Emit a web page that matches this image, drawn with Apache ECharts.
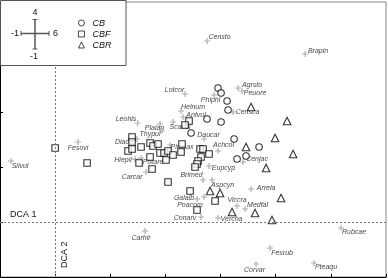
<!DOCTYPE html>
<html><head><meta charset="utf-8">
<script src="https://cdn.jsdelivr.net/npm/echarts@6/dist/echarts.min.js"></script>
<style>html,body{margin:0;padding:0;background:#fff}#c{width:388px;height:278px}</style>
</head><body><div id="c"></div>
<script>
// Axis ranges (DCA units)
const xRange = [-1, 6];
const yRange = [-1, 4];
const scaleLabels = ['4', '-1', '6', '-1'];
const groupNames = ['CB', 'CBF', 'CBR'];
const axisTitles = ['DCA 1', 'DCA 2'];

// Species (+ markers)
const speciesNames = ['Censto','Brapin','Lotcor','Agrsto','Peuore','Phlphl','Helnum','Censca','Antvul','Leohis','Plalan','Scacol','Thypul','Daucar','Diacar','Hiepil','Potare','Carcar','Pimsax','Achcol','Eupcyp','Cenjac','Brimed','Aspcyn','Arrela','Galalb','Poacom','Viccra','Medfal','Conarv','Vercha','Carhir','Corvar','Fesrub','Pteaqu','Rubcae','Fesovi','Silvul'];
const speciesX = [2.755,4.532,2.356,3.317,3.390,2.882,2.283,3.226,2.320,1.494,1.902,2.138,1.939,2.700,1.485,1.449,1.558,1.649,2.084,2.954,2.791,3.408,2.682,2.846,3.553,2.573,2.700,3.299,3.444,2.646,2.954,1.630,3.643,3.897,4.695,5.185,0.415,-0.800];
const speciesY = [3.291,3.055,2.327,2.436,2.382,2.309,2.018,2.000,1.909,1.800,1.782,1.818,1.655,1.509,1.509,1.145,1.164,0.909,1.400,1.291,1.018,1.091,0.764,0.764,0.600,0.418,0.455,0.291,0.236,0.091,0.073,-0.164,-0.764,-0.473,-0.745,-0.109,1.455,1.109];

// Sites
const cbX = [2.954,3.009,3.118,3.136,2.755,3.009,2.465,3.245,3.299,3.462,3.698];
const cbY = [2.436,2.345,2.200,2.036,1.873,1.818,1.618,1.509,1.145,1.200,1.364];
const cbfX = [0.000,0.579,1.395,1.395,1.322,1.395,1.558,1.522,1.721,1.775,1.866,1.721,1.902,1.975,1.757,2.011,2.047,2.138,2.283,2.301,2.428,2.356,2.047,2.447,2.628,2.682,2.791,2.646,2.592,2.573,2.537,2.900,2.573];
const cbfY = [1.345,1.073,1.545,1.455,1.291,1.327,1.364,1.073,1.436,1.382,1.418,1.182,1.255,1.255,0.964,1.127,1.291,1.218,1.273,1.418,1.836,1.764,0.727,0.564,1.327,1.327,1.236,1.182,1.109,1.055,1.000,0.382,0.218];
const cbrX = [3.553,4.206,3.988,3.462,4.315,3.825,2.809,2.991,4.097,3.208,3.625,3.933];
const cbrY = [2.091,1.836,1.527,1.364,1.236,0.982,0.564,0.527,0.436,0.182,0.164,0.036];

// label placement (style)
const labelOffset = {Censto:[12.5,-4],Brapin:[13,-3],Lotcor:[-10.5,-4],Agrsto:[14,-3],Peuore:[13,2],Phlphl:[-3.5,5],Helnum:[12,-4],Censca:[14.5,0],Antvul:[13,-1.5],Leohis:[-11.5,-4],Plalan:[-5.5,4],Scacol:[7,5],Thypul:[-12,3],Daucar:[4.5,-4],Diacar:[-12,3],Hiepil:[-12,1],Potare:[12,4],Carcar:[-14,5],Pimsax:[12,2],Achcol:[5.5,-6],Eupcyp:[14.5,2],Cenjac:[14,-3],Brimed:[-11.5,-5],Aspcyn:[10.5,5],Arrela:[15,-1],Galalb:[-13,-1],Poacom:[-14,8],Viccra:[0,-6],Medfal:[12.5,-4],Conarv:[-16,1],Vercha:[13.5,1],Carhir:[-4,7],Corvar:[-1.5,6],Fesrub:[12,5],Pteaqu:[12,4],Rubcae:[13,4],Fesovi:[0,6],Silvul:[9,5]};

const FONT = 'Liberation Sans, Arial, sans-serif';
const pair = (xs, ys) => xs.map((x, i) => [x, ys[i]]);
const siteStyle = {color:'#fff', borderColor:'#000', borderWidth:1.1};

const chart = echarts.init(document.getElementById('c'), null, {renderer:'canvas'});
const axisCommon = {
  type:'value', interval:1,
  axisLine:{show:true, onZero:false, lineStyle:{color:'#000', width:1}},
  axisTick:{show:true, inside:true, length:3, lineStyle:{color:'#000'}},
  axisLabel:{show:false}, splitLine:{show:false}
};
chart.setOption({
  animation:false,
  grid:{left:0, right:2, top:2, bottom:1, show:true, borderColor:'#888', borderWidth:1},
  xAxis:Object.assign({min:xRange[0], max:xRange[1]}, axisCommon),
  yAxis:Object.assign({min:yRange[0], max:yRange[1]}, axisCommon),
  legend:{
    orient:'vertical', left:78, top:18, padding:0, itemWidth:6, itemHeight:6, itemGap:1, z:30,
    itemStyle:{borderWidth:0.9},
    data:[{name:groupNames[0], icon:'circle'},{name:groupNames[1], icon:'rect'},{name:groupNames[2], icon:'triangle'}],
    textStyle:{fontSize:9, lineHeight:10, fontStyle:'italic', fontFamily:FONT, color:'#111', padding:[0,0,0,3]}
  },
  graphic:[
    {type:'rect', z:20, shape:{x:0.5, y:0.5, width:125.5, height:65}, style:{fill:'#fff', stroke:'#555', lineWidth:1}},
    {type:'line', z:21, shape:{x1:21, y1:33.5, x2:49, y2:33.5}, style:{stroke:'#555', lineWidth:1.5}},
    {type:'line', z:21, shape:{x1:35, y1:19.5, x2:35, y2:49}, style:{stroke:'#555', lineWidth:1.5}},
    {type:'line', z:21, shape:{x1:21, y1:31, x2:21, y2:36}, style:{stroke:'#555', lineWidth:1}},
    {type:'line', z:21, shape:{x1:49, y1:31, x2:49, y2:36}, style:{stroke:'#555', lineWidth:1}},
    {type:'line', z:21, shape:{x1:32.5, y1:19.5, x2:37.5, y2:19.5}, style:{stroke:'#555', lineWidth:1}},
    {type:'line', z:21, shape:{x1:32.5, y1:49, x2:37.5, y2:49}, style:{stroke:'#555', lineWidth:1}},
    {type:'text', z:21, style:{x:35, y:13, text:scaleLabels[0], fontSize:9, fontFamily:FONT, fill:'#111', align:'center', verticalAlign:'middle'}},
    {type:'text', z:21, style:{x:19, y:33.5, text:scaleLabels[1], fontSize:9, fontFamily:FONT, fill:'#111', align:'right', verticalAlign:'middle'}},
    {type:'text', z:21, style:{x:53, y:33.5, text:scaleLabels[2], fontSize:9, fontFamily:FONT, fill:'#111', align:'left', verticalAlign:'middle'}},
    {type:'text', z:21, style:{x:34, y:57, text:scaleLabels[3], fontSize:9, fontFamily:FONT, fill:'#111', align:'center', verticalAlign:'middle'}}
  ],
  series:[
    {
      type:'scatter', name:'species', z:1,
      symbol:'path://M4,0H6V4H10V6H6V10H4V6H0V4H4Z', symbolSize:6,
      itemStyle:{color:'#9a9a9a'},
      data:speciesNames.map((n, i) => ({name:n, value:[speciesX[i], speciesY[i]], label:{offset:labelOffset[n]}})),
      label:{show:true, position:'inside', formatter:'{b}', fontSize:7, fontStyle:'italic', fontFamily:FONT, color:'#111', align:'center', verticalAlign:'middle'},
      markLine:{
        silent:true, symbol:'none',
        lineStyle:{type:[2,2], color:'#777', width:1},
        data:[
          {yAxis:0, label:{formatter:axisTitles[0], position:'insideStartTop', distance:[10,3], fontSize:9, fontFamily:FONT, color:'#111'}},
          {xAxis:0, label:{formatter:axisTitles[1], position:'insideStartBottom', distance:[9,5], fontSize:9, fontFamily:FONT, color:'#111'}}
        ]
      }
    },
    {type:'scatter', name:groupNames[0], z:3, symbol:'circle', symbolSize:6.5, itemStyle:siteStyle, data:pair(cbX, cbY)},
    {type:'scatter', name:groupNames[1], z:3, symbol:'rect', symbolSize:6.5, itemStyle:siteStyle, data:pair(cbfX, cbfY)},
    {type:'scatter', name:groupNames[2], z:3, symbol:'triangle', symbolSize:7.5, itemStyle:siteStyle, data:pair(cbrX, cbrY)}
  ]
});
</script></body></html>
